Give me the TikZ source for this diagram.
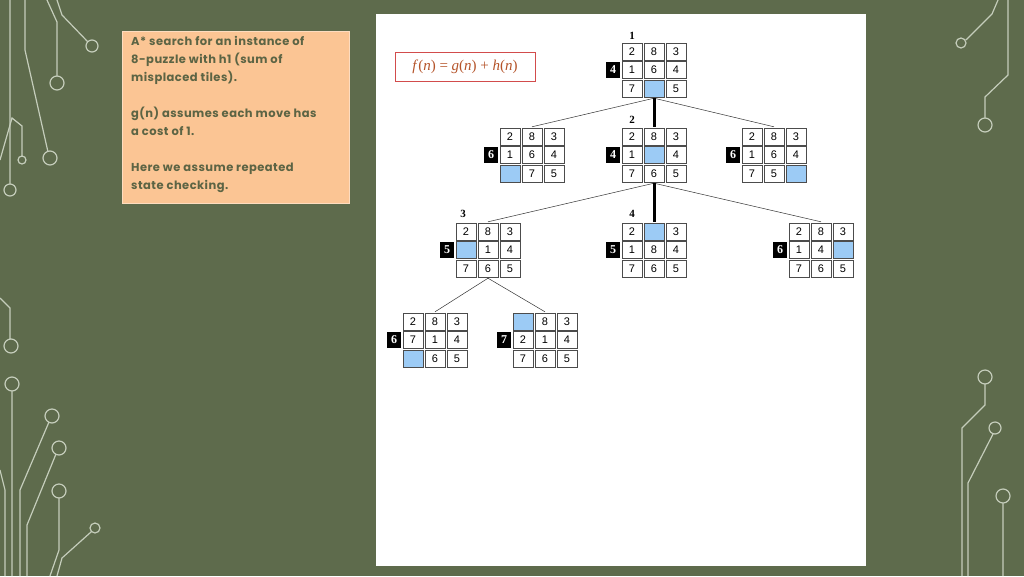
\documentclass[tikz,border=0pt]{standalone}
\usepackage{fontspec}
\setmainfont{Liberation Serif}
\newfontfamily\arialf{Liberation Sans}
\newfontfamily\gothf[LetterSpace=4]{Poppins}
\definecolor{bgg}{HTML}{5E6B4C}
\definecolor{circ}{HTML}{C5CDBB}
\definecolor{peach}{HTML}{FBC594}
\definecolor{txtg}{HTML}{5C6444}
\definecolor{blank}{HTML}{9CCBF5}
\definecolor{fcol}{HTML}{B5542A}
\tikzset{
 cell/.style={draw=black!70,line width=0.7pt,minimum width=20pt,minimum height=17pt,inner sep=0pt,fill=white,font=\arialf\fontsize{11}{11}\selectfont},
 fbox/.style={fill=black,text=white,minimum width=14pt,minimum height=16pt,inner sep=0pt,font=\bfseries\fontsize{12}{12}\selectfont},
 frame/.style={minimum width=66pt,minimum height=56pt,inner sep=0pt},
 numlab/.style={font=\bfseries\fontsize{11}{11}\selectfont,inner sep=0pt},
 edge/.style={draw=black!80,line width=0.5pt},
 bold edge/.style={draw=black,line width=3pt},
 wire/.style={draw=circ,line width=1.2pt},
}
\newcommand\puz[5]{%
 \node[frame] (#1) at (#2,#3) {};
 \node[fbox] (#1f) at (#2-41,#3) {#4};
 \foreach \v [count=\i from 0] in {#5} {
  \pgfmathtruncatemacro\cc{mod(\i,3)}
  \pgfmathtruncatemacro\rr{int(\i/3)}
  \ifnum\v=0
   \node[cell,fill=blank] (#1c\i) at (#2+22*\cc-22,#3+18.5*\rr-18.5) {};
  \else
   \node[cell] (#1c\i) at (#2+22*\cc-22,#3+18.5*\rr-18.5) {\v};
  \fi
 }}
\begin{document}
\begin{tikzpicture}[x=1pt,y=-1pt]
\useasboundingbox (0,0) rectangle (1024,576);
\fill[bgg] (0,0) rectangle (1024,576);
% circuits
\draw[wire] (10,0)--(10,184) (10,190) circle (6);
\draw[wire] (0,160)--(12,118)--(22,126)--(22,156) (22,160) circle (4);
\draw[wire] (25,0)--(25,50)--(48,152) (50,158) circle (7);
\draw[wire] (47,0)--(57,22)--(57,76) (57,83) circle (7);
\draw[wire] (57,0)--(62,15)--(88,42) (92,46) circle (6);
\draw[wire] (0,298)--(10,308)--(10,339) (11,346) circle (7);
\draw[wire] (12,391)--(12,576) (12,384) circle (7);
\draw[wire] (49,422)--(20,490)--(20,576) (52,416) circle (7);
\draw[wire] (56,454)--(27,525)--(27,576) (59,448) circle (7);
\draw[wire] (59,498)--(59,550)--(50,576) (59,491) circle (7);
\draw[wire] (91,532)--(62,558)--(57,576) (95,528) circle (5);
\draw[wire] (0,470)--(5,490)--(5,576);
\draw[wire] (1008,0)--(1008,75)--(985,97)--(985,118) (985,125) circle (7);
\draw[wire] (998,0)--(992,14)--(966,40) (961,43) circle (5);
\draw[wire] (985,384)--(985,405)--(962,428)--(962,576) (985,377) circle (7);
\draw[wire] (993,434)--(968,483)--(968,576) (995,428) circle (6);
\draw[wire] (1003,503)--(1003,576) (1003,496) circle (7);
% text box
\node[draw=peach!60!white,fill=peach,line width=0.8pt,minimum width=227pt,minimum height=172pt,anchor=north west,inner sep=0pt] (info) at (122,31) {};
\node[anchor=north west,text=txtg,align=left,font=\gothf\fontsize{11.5}{18}\selectfont\bfseries,inner sep=0pt] (infotxt) at (131,36) {A* search for an instance of\\8-puzzle with h1 (sum of\\misplaced tiles).\\[18pt]g(n) assumes each move has\\a cost of 1.\\[18pt]Here we assume repeated\\state checking.};
% panel
\node[fill=white,minimum width=490pt,minimum height=552pt,anchor=north west,inner sep=0pt] (panel) at (376,14) {};
\node[draw=red!75!black!70,line width=0.6pt,minimum width=140pt,minimum height=29pt,inner sep=0pt,text=fcol,font=\fontsize{15}{15}\selectfont] (fn) at (465,66.5) {\textit{f}(\textit{n}) = \textit{g}(\textit{n}) + \textit{h}(\textit{n})};
% puzzles
\puz{r}{654}{70}{4}{2,8,3,1,6,4,7,0,5}
\puz{a}{532}{155}{6}{2,8,3,1,6,4,0,7,5}
\puz{b}{654}{155}{4}{2,8,3,1,0,4,7,6,5}
\puz{c}{774}{155}{6}{2,8,3,1,6,4,7,5,0}
\puz{d}{488}{250}{5}{2,8,3,0,1,4,7,6,5}
\puz{e}{654}{250}{5}{2,0,3,1,8,4,7,6,5}
\puz{f}{821}{250}{6}{2,8,3,1,4,0,7,6,5}
\puz{g}{435}{340}{6}{2,8,3,7,1,4,0,6,5}
\puz{h}{545}{340}{7}{0,8,3,2,1,4,7,6,5}
\node[numlab] (l1) at (632,36) {1};
\node[numlab] (l2) at (632,120) {2};
\node[numlab] (l3) at (463,214) {3};
\node[numlab] (l4) at (632,214) {4};
% edges
\draw[edge] (r.south) -- (a.north);
\draw[edge] (r.south) -- (c.north);
\draw[bold edge] (r.south) -- (b.north);
\draw[edge] (b.south) -- (d.north);
\draw[edge] (b.south) -- (f.north);
\draw[bold edge] (b.south) -- (e.north);
\draw[edge] (d.south) -- (g.north);
\draw[edge] (d.south) -- (h.north);
\end{tikzpicture}
\end{document}
